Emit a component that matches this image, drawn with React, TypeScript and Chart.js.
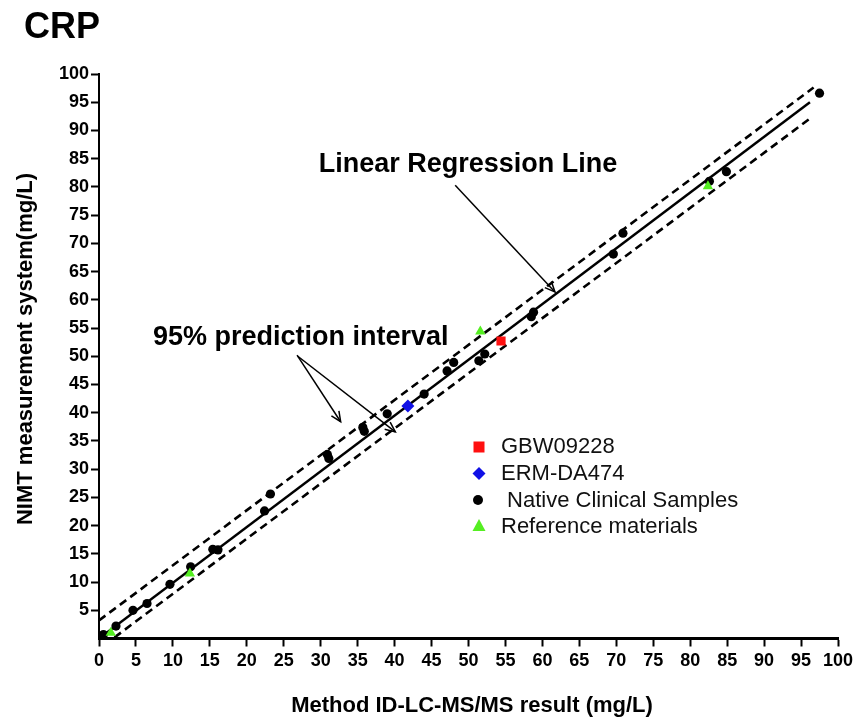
import React, { useEffect, useRef } from 'react';
import { Chart, registerables } from 'chart.js';

Chart.register(...registerables);

// ---------- data ----------
const axisMin = 0;
const axisMax = 100;
const tickStep = 5;

const nativeX = [0.6, 2.3, 4.6, 6.5, 9.6, 12.4, 15.4, 16.1, 22.4, 23.2, 30.9, 31.1, 35.7, 35.9, 39.0, 44.0, 47.1, 48.0, 51.4, 52.2, 58.5, 58.8, 69.6, 70.9, 82.6, 84.9, 97.5];
const nativeY = [0.7, 2.2, 5.0, 6.2, 9.6, 12.7, 15.8, 15.7, 22.6, 25.6, 32.6, 31.9, 37.4, 36.7, 39.8, 43.3, 47.4, 48.9, 49.2, 50.4, 57.0, 57.8, 68.1, 71.8, 81.0, 82.7, 96.6];

const refMatX = [1.6, 12.3, 51.6, 82.4];
const refMatY = [1.0, 11.5, 54.4, 80.1];

const gbwX = [54.4];
const gbwY = [52.7];

const ermX = [41.8];
const ermY = [41.2];

const regX = [0, 96.2];
const regY = [0, 95.0];

const upperX = [0, 96.7];
const upperY = [3.2, 97.6];

const lowerX = [2.1, 96.2];
const lowerY = [0.2, 92.1];

const legendLabels = ['GBW09228', 'ERM-DA474', ' Native Clinical Samples', 'Reference materials'];
const titleText = 'CRP';
const xTitle = 'Method ID-LC-MS/MS result (mg/L)';
const yTitle = 'NIMT measurement system(mg/L)';
const regLabel = 'Linear Regression Line';
const piLabel = '95% prediction interval';

// arrow anchors in data units (tail, tip)
const regArrow = [[48.2, 80.3], [61.7, 61.4]];
const piArrows = [
  [[26.8, 50.2], [32.7, 38.4]],
  [[26.9, 50.0], [40.1, 36.6]],
];

const COLORS = {
  red: '#ff1010',
  blue: '#1010e6',
  black: '#000000',
  green: '#55ee22',
};

const FONT = '"Liberation Sans", Arial, Helvetica, sans-serif';

const zip = (xs: number[], ys: number[]) => xs.map((x, i) => ({ x, y: ys[i] }));

function drawArrow(ctx: CanvasRenderingContext2D, x1: number, y1: number, x2: number, y2: number) {
  ctx.beginPath();
  ctx.moveTo(x1, y1);
  ctx.lineTo(x2, y2);
  ctx.stroke();
  const a = Math.atan2(y2 - y1, x2 - x1);
  const len = 11;
  ctx.beginPath();
  ctx.moveTo(x2 - len * Math.cos(a - 0.42), y2 - len * Math.sin(a - 0.42));
  ctx.lineTo(x2, y2);
  ctx.lineTo(x2 - len * Math.cos(a + 0.42), y2 - len * Math.sin(a + 0.42));
  ctx.stroke();
}

const annotationPlugin = {
  id: 'crpAnnotations',
  afterDraw(chart: any) {
    const { ctx } = chart;
    const xs = chart.scales.x;
    const ys = chart.scales.y;
    const px = (v: number) => xs.getPixelForValue(v);
    const py = (v: number) => ys.getPixelForValue(v);
    ctx.save();
    ctx.fillStyle = '#000';
    ctx.strokeStyle = '#000';

    // title
    ctx.font = `bold 36px ${FONT}`;
    ctx.textAlign = 'left';
    ctx.textBaseline = 'alphabetic';
    ctx.fillText(titleText, 24, 38);

    // axis titles
    ctx.font = `bold 22px ${FONT}`;
    ctx.textAlign = 'center';
    ctx.fillText(xTitle, 472, 712);
    ctx.save();
    ctx.translate(32, 349);
    ctx.rotate(-Math.PI / 2);
    ctx.fillText(yTitle, 0, 0);
    ctx.restore();

    // annotation labels
    ctx.font = `bold 27px ${FONT}`;
    ctx.textAlign = 'center';
    ctx.fillText(regLabel, 468, 172);
    ctx.textAlign = 'left';
    ctx.fillText(piLabel, 153, 345);

    ctx.lineWidth = 1.5;
    drawArrow(ctx, px(regArrow[0][0]), py(regArrow[0][1]), px(regArrow[1][0]), py(regArrow[1][1]));
    piArrows.forEach(([t, h]) => drawArrow(ctx, px(t[0]), py(t[1]), px(h[0]), py(h[1])));

    // legend
    const mx = 479;
    const rows = [447, 473.5, 500, 526];
    const bases = [453, 480, 506.5, 533];
    // square
    ctx.fillStyle = COLORS.red;
    ctx.fillRect(mx - 5.5, rows[0] - 5.5, 11, 11);
    // diamond
    ctx.fillStyle = COLORS.blue;
    ctx.beginPath();
    ctx.moveTo(mx, rows[1] - 6.5);
    ctx.lineTo(mx + 6.5, rows[1]);
    ctx.lineTo(mx, rows[1] + 6.5);
    ctx.lineTo(mx - 6.5, rows[1]);
    ctx.closePath();
    ctx.fill();
    // circle
    ctx.fillStyle = COLORS.black;
    ctx.beginPath();
    ctx.arc(mx - 1, rows[2], 5, 0, Math.PI * 2);
    ctx.fill();
    // triangle
    ctx.fillStyle = COLORS.green;
    ctx.beginPath();
    ctx.moveTo(mx, rows[3] - 7);
    ctx.lineTo(mx + 6.5, rows[3] + 5);
    ctx.lineTo(mx - 6.5, rows[3] + 5);
    ctx.closePath();
    ctx.fill();

    ctx.fillStyle = '#111';
    ctx.font = `22px ${FONT}`;
    ctx.textAlign = 'left';
    legendLabels.forEach((t, i) => ctx.fillText(t, 501, bases[i]));

    ctx.restore();
  },
};

export default function App() {
  const canvasRef = useRef<HTMLCanvasElement | null>(null);

  useEffect(() => {
    if (!canvasRef.current) return;
    Chart.defaults.font.family = FONT;
    Chart.defaults.color = '#000';

    const chart = new Chart(canvasRef.current, {
      type: 'scatter',
      data: {
        datasets: [
          {
            label: legendLabels[0],
            data: zip(gbwX, gbwY),
            pointStyle: 'rect',
            pointRadius: 6.5,
            backgroundColor: COLORS.red,
            borderColor: COLORS.red,
            borderWidth: 0,
            order: 0,
          },
          {
            label: legendLabels[1],
            data: zip(ermX, ermY),
            pointStyle: 'rectRot',
            pointRadius: 6.5,
            backgroundColor: COLORS.blue,
            borderColor: COLORS.blue,
            borderWidth: 0,
            order: 1,
          },
          {
            label: legendLabels[3],
            data: zip(refMatX, refMatY),
            pointStyle: 'triangle',
            pointRadius: 6,
            backgroundColor: COLORS.green,
            borderColor: COLORS.green,
            borderWidth: 0,
            order: 2,
          },
          {
            label: legendLabels[2],
            data: zip(nativeX, nativeY),
            pointStyle: 'circle',
            pointRadius: 4.6,
            backgroundColor: COLORS.black,
            borderColor: COLORS.black,
            borderWidth: 0,
            order: 3,
          },
          {
            label: 'Regression',
            data: zip(regX, regY),
            showLine: true,
            pointRadius: 0,
            borderColor: '#000',
            borderWidth: 2.5,
            order: 10,
          },
          {
            label: 'Upper PI',
            data: zip(upperX, upperY),
            showLine: true,
            pointRadius: 0,
            borderColor: '#000',
            borderWidth: 2.6,
            borderDash: [8, 5],
            order: 11,
          },
          {
            label: 'Lower PI',
            data: zip(lowerX, lowerY),
            showLine: true,
            pointRadius: 0,
            borderColor: '#000',
            borderWidth: 2.6,
            borderDash: [8, 5],
            order: 12,
          },
        ],
      },
      options: {
        responsive: false,
        animation: false,
        devicePixelRatio: 1,
        layout: { padding: { top: 74, right: 20, left: 0, bottom: 0 } },
        plugins: {
          legend: { display: false },
          tooltip: { enabled: false },
          title: { display: false },
        },
        scales: {
          x: {
            type: 'linear',
            min: axisMin,
            max: axisMax,
            ticks: {
              stepSize: tickStep,
              color: '#000',
              font: { weight: 'bold', size: 18, family: FONT },
              padding: 4,
              maxRotation: 0,
              autoSkip: false,
            },
            grid: {
              display: true,
              drawOnChartArea: false,
              drawTicks: true,
              tickLength: 8,
              tickWidth: 2,
              tickColor: '#000',
            },
            border: { display: true, color: '#000', width: 3 },
            afterFit: (s: any) => {
              s.height = 81.5;
            },
          },
          y: {
            type: 'linear',
            min: axisMin,
            max: axisMax,
            ticks: {
              stepSize: tickStep,
              color: '#000',
              font: { weight: 'bold', size: 18, family: FONT },
              padding: 2,
              autoSkip: false,
              callback: (v: any) => (Number(v) === 0 ? '' : String(v)),
            },
            grid: {
              display: true,
              drawOnChartArea: false,
              drawTicks: true,
              tickLength: 8,
              tickWidth: 2,
              tickColor: (c: any) => (c.tick && c.tick.value === 0 ? 'rgba(0,0,0,0)' : '#000'),
            },
            border: { display: true, color: '#000', width: 2 },
            afterFit: (s: any) => {
              s.width = 99;
            },
          },
        },
      },
      plugins: [annotationPlugin],
    } as any);

    return () => chart.destroy();
  }, []);

  return (
    <div style={{ position: 'absolute', left: 0, top: 0, width: 858, height: 720, background: '#fff' }}>
      <canvas ref={canvasRef} width={858} height={720} style={{ display: 'block' }} />
    </div>
  );
}
